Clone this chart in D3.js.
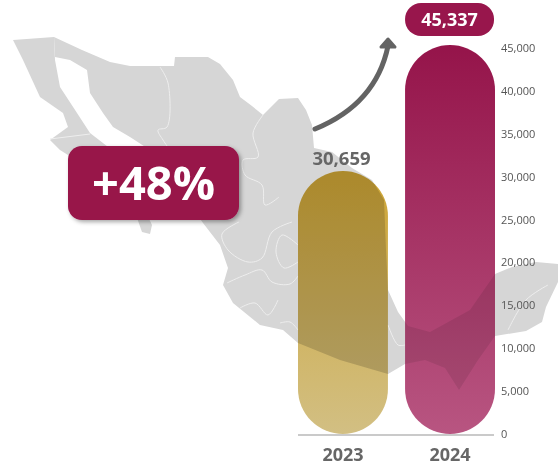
<!DOCTYPE html>
<html>
<head>
<meta charset="utf-8">
<script src="https://cdn.jsdelivr.net/npm/d3@7"></script>
<style>
  html, body { margin: 0; padding: 0; background: #fff; }
  svg { display: block; font-family: "Open Sans", sans-serif; }
</style>
</head>
<body>
<svg id="chart" width="558" height="467"></svg>
<script>
// Annual totals
const years = ["2023", "2024"];
const totals = [30659, 45337];
const axisTicks = [0, 5000, 10000, 15000, 20000, 25000, 30000, 35000, 40000, 45000];
const changeLabel = "+48%";

// Base map of Mexico, outlines in page units
const mainland = [[54,37],[82,50],[110,62],[130,66],[174,66],[175,57],[208,57],[220,64],[233,80],[240,97],[252,106],[263,115],[279,99],[298,98],[306,110],[312,125],[314,148],[332,152],[352,168],[372,180],[384,200],[386,250],[388,290],[398,312],[408,326],[430,332],[470,310],[495,274],[512,267],[536,262],[558,264],[558,282],[546,307],[542,322],[526,331],[495,336],[478,360],[459,390],[445,368],[425,360],[405,364],[388,374],[340,360],[298,343],[283,330],[260,325],[233,303],[223,285],[228,268],[220,245],[203,223],[180,190],[150,150],[130,137],[113,127],[103,113],[90,93],[87,70],[70,60],[55,57]];
const baja = [[13,40],[54,37],[55,60],[60,87],[77,113],[90,133],[112,150],[130,180],[152,225],[150,234],[142,232],[136,215],[100,180],[68,155],[60,150],[50,140],[68,127],[63,113],[40,97],[23,60]];
const stateBorders = [
  [[160,67],[168,83],[167,127],[158,130],[163,140],[170,150]],
  [[263,115],[253,133],[258,157],[243,160],[245,175],[262,185],[265,205],[279,197]],
  [[239,222],[222,234],[228,250],[248,262],[262,258],[272,232],[292,222]],
  [[227,283],[245,275],[262,270],[272,282],[290,284],[298,276]],
  [[240,308],[255,303],[268,315],[278,300]],
  [[298,245],[282,235],[276,252],[284,268],[298,262]],
  [[50,139],[90,134]],
  [[280,323],[290,322],[298,330]],
  [[508,330],[526,300],[548,285]],
  [[388,325],[398,345],[405,345]]
];

const yearColors = {
  "2023": ["#cda433", "#d2bf83"],
  "2024": ["#95144a", "#b85581"]
};
// How much of the land is washed out behind each bar
const landWash = { "2023": 0, "2024": 0.45 };

const svg = d3.select("#chart");

const x = d3.scaleBand().domain(years).range([298, 495]).paddingInner(0.16);
const y = d3.scaleLinear().domain([0, 45000]).range([434, 48]);

const defs = svg.append("defs");
years.forEach(yr => {
  const g = defs.append("linearGradient")
    .attr("id", "fill-" + yr)
    .attr("x1", 0).attr("x2", 0).attr("y1", 0).attr("y2", 1);
  g.append("stop").attr("offset", "0%").attr("stop-color", yearColors[yr][0]);
  g.append("stop").attr("offset", "100%").attr("stop-color", yearColors[yr][1]);
});
const shadow = defs.append("filter").attr("id", "badge-shadow")
  .attr("x", "-10%").attr("y", "-10%").attr("width", "125%").attr("height", "125%");
shadow.append("feDropShadow")
  .attr("dx", 2).attr("dy", 2).attr("stdDeviation", 2)
  .attr("flood-color", "#000").attr("flood-opacity", 0.35);

// Map
const outline = d3.line().curve(d3.curveLinearClosed);
const trace = d3.line().curve(d3.curveCatmullRom);
const map = svg.append("g").attr("class", "map");
map.selectAll("path.land").data([mainland, baja]).join("path")
  .attr("class", "land")
  .attr("d", outline)
  .attr("fill", "#d6d6d6");
map.selectAll("path.state").data(stateBorders).join("path")
  .attr("class", "state")
  .attr("d", trace)
  .attr("fill", "none")
  .attr("stroke", "#eeeeee")
  .attr("stroke-width", 1);

// Bars: round-ended and blended so the land shows through
const barsG = svg.append("g").attr("class", "bars");
const placeBar = sel => sel
  .attr("x", d => x(d))
  .attr("y", d => y(totals[years.indexOf(d)]))
  .attr("width", x.bandwidth())
  .attr("height", d => y(0) - y(totals[years.indexOf(d)]))
  .attr("rx", x.bandwidth() / 2);
barsG.selectAll("rect.wash").data(years).join("rect")
  .attr("class", "wash")
  .call(placeBar)
  .attr("fill", "#fff")
  .attr("fill-opacity", d => landWash[d]);
barsG.selectAll("rect.bar").data(years).join("rect")
  .attr("class", "bar")
  .call(placeBar)
  .attr("fill", d => `url(#fill-${d})`)
  .style("mix-blend-mode", "multiply");

// Baseline
svg.append("line")
  .attr("x1", x("2023")).attr("x2", 494)
  .attr("y1", y(0) + 1).attr("y2", y(0) + 1)
  .attr("stroke", "#b9b9b9").attr("stroke-width", 1.5);

// Value axis
const axis = d3.axisRight(y)
  .tickValues(axisTicks)
  .tickFormat(d3.format(","))
  .tickSize(0)
  .tickPadding(0);
const axisG = svg.append("g")
  .attr("transform", "translate(501,0)")
  .call(axis);
axisG.select(".domain").remove();
axisG.selectAll("text")
  .attr("font-family", "'Open Sans', sans-serif")
  .attr("font-size", 11)
  .attr("fill", "#555");

// Year labels
svg.append("g").selectAll("text").data(years).join("text")
  .attr("x", d => x(d) + x.bandwidth() / 2)
  .attr("y", 461)
  .attr("text-anchor", "middle")
  .attr("font-size", 18)
  .attr("font-weight", 700)
  .attr("fill", "#666")
  .text(d => d);

// Value label for the first year
svg.append("text")
  .attr("x", x("2023") + x.bandwidth() / 2 - 1.5)
  .attr("y", y(totals[0]) - 6)
  .attr("text-anchor", "middle")
  .attr("font-size", 18.5)
  .attr("font-weight", 700)
  .attr("fill", "#666")
  .text(d3.format(",")(totals[0]));

// Value pill for the second year
svg.append("rect")
  .attr("x", x("2024"))
  .attr("y", 3)
  .attr("width", x.bandwidth() - 1)
  .attr("height", 33)
  .attr("rx", 16)
  .attr("fill", "#98164c");
svg.append("text")
  .attr("x", x("2024") + x.bandwidth() / 2 - 0.5)
  .attr("y", 26)
  .attr("text-anchor", "middle")
  .attr("font-size", 18)
  .attr("font-weight", 700)
  .attr("fill", "#fff")
  .text(d3.format(",")(totals[1]));

// Growth arrow
svg.append("path")
  .attr("d", "M315,129 Q376,104 388,46")
  .attr("fill", "none")
  .attr("stroke", "#636363")
  .attr("stroke-width", 5)
  .attr("stroke-linecap", "round");
svg.append("path")
  .attr("d", "M381,47 L388,39 L395,47 Z")
  .attr("fill", "#636363")
  .attr("stroke", "#636363")
  .attr("stroke-width", 3)
  .attr("stroke-linejoin", "round");

// Change badge
svg.append("rect")
  .attr("x", 68).attr("y", 146)
  .attr("width", 171).attr("height", 74)
  .attr("rx", 14)
  .attr("fill", "#98134a")
  .attr("filter", "url(#badge-shadow)");
svg.append("text")
  .attr("x", 153.5).attr("y", 200)
  .attr("text-anchor", "middle")
  .attr("font-size", 47)
  .attr("font-weight", 700)
  .attr("fill", "#fff")
  .text(changeLabel);
</script>
</body>
</html>
